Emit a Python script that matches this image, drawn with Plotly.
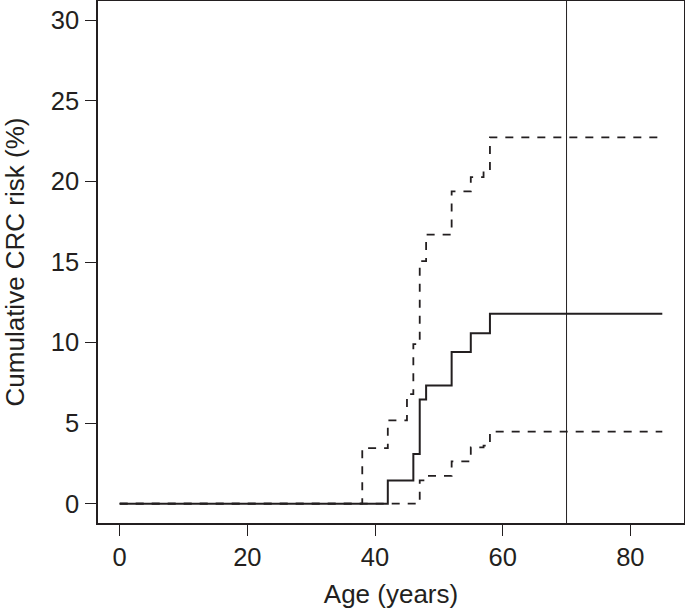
import plotly.graph_objects as go

# Kaplan-Meier style cumulative risk (step data)
age_est = [0, 42, 46, 47, 48, 52, 55, 58, 85]
risk_est = [0, 1.44, 3.09, 6.47, 7.34, 9.42, 10.58, 11.79, 11.79]

age_upper = [0, 38, 42, 45, 46, 47, 48, 52, 55, 57, 58, 85]
risk_upper = [0, 3.45, 5.17, 6.8, 9.9, 15.05, 16.7, 19.38, 20.27, 20.67, 22.74, 22.74]

age_lower = [0, 47, 48, 52, 55, 57, 58, 85]
risk_lower = [0, 1.45, 1.72, 2.63, 3.5, 3.6, 4.47, 4.47]

ref_age = 70

x_ticks = [0, 20, 40, 60, 80]
y_ticks = [0, 5, 10, 15, 20, 25, 30]

ink = "#231f20"

fig = go.Figure()
fig.add_trace(go.Scatter(x=age_upper, y=risk_upper, mode="lines", line_shape="hv",
                         line=dict(color=ink, width=1.8, dash="8px,8px")))
fig.add_trace(go.Scatter(x=age_lower, y=risk_lower, mode="lines", line_shape="hv",
                         line=dict(color=ink, width=1.8, dash="8px,8px")))
fig.add_trace(go.Scatter(x=age_est, y=risk_est, mode="lines", line_shape="hv",
                         line=dict(color=ink, width=2)))

fig.add_shape(type="line", x0=ref_age, x1=ref_age, xref="x", y0=0, y1=1, yref="paper",
              line=dict(color=ink, width=1))

axis_style = dict(showline=True, mirror=True, linecolor=ink, linewidth=1.5,
                  ticks="outside", ticklen=11, tickwidth=1.2, tickcolor=ink,
                  showgrid=False, zeroline=False,
                  tickfont=dict(size=25.5, color=ink))

fig.update_xaxes(range=[-3.4, 88.4], tickvals=x_ticks,
                 title=dict(text="Age (years)", font=dict(size=26, color=ink), standoff=14),
                 **axis_style)
fig.update_yaxes(range=[-1.2, 31.2], tickvals=y_ticks, ticklabelstandoff=1,
                 title=dict(text="Cumulative CRC risk (%)", font=dict(size=26, color=ink), standoff=22),
                 **axis_style)

fig.update_layout(
    width=685, height=609,
    margin=dict(l=98, r=1, t=1, b=86, autoexpand=False),
    plot_bgcolor="white", paper_bgcolor="white",
    font=dict(family="Liberation Sans, Arial, Helvetica, sans-serif", color=ink),
    showlegend=False,
)

# drop the browser's default 8px body margin so the figure sits at the page origin
fig.write_html("out.html", config={"displayModeBar": False},
               post_script="document.body.style.margin='0';")
